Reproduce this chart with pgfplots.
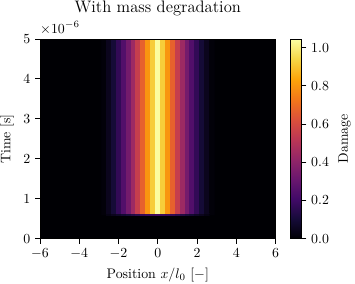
\documentclass[border=0pt]{standalone}
\usepackage{pgfplots}
\pgfplotsset{compat=1.18}
\definecolor{inf0}{RGB}{0,0,4}
\begin{document}
\begin{tikzpicture}
\useasboundingbox (-28.8pt,-32.5pt) rectangle (227.2pt,172.1pt);
\begin{axis}[
  at={(0,0)}, anchor=south west,
  scale only axis, width=170pt, height=144pt,
  xmin=-6, xmax=6, ymin=0, ymax=5e-6,
  xtick={-6,-4,-2,0,2,4,6},
  ytick={0,1e-6,2e-6,3e-6,4e-6,5e-6},
  scaled y ticks=base 10:6,
  tick scale binop=\times,
  every y tick scale label/.style={at={(rel axis cs:0,1)}, anchor=base west, inner sep=0pt, yshift=4.3pt},
  tick align=outside, xtick pos=bottom, ytick pos=left,
  major tick length=3.5pt,
  axis line style={line width=0.6pt},
  every tick/.style={line width=0.6pt, black},
  title={With mass degradation},
  title style={font=\large, at={(0.5,1)}, anchor=base, yshift=13pt},
  xlabel={Position $x/l_0$ [$-$]},
  ylabel={Time [s]},
  axis background/.style={fill=inf0},
  axis on top,
  clip=true, clip mode=individual,
  no markers,
  colormap={inferno}{rgb255=(0,0,4) rgb255=(22,11,57) rgb255=(66,10,104) rgb255=(106,23,110) rgb255=(147,38,103) rgb255=(188,55,84) rgb255=(221,81,58) rgb255=(243,120,25) rgb255=(252,165,10) rgb255=(246,215,70) rgb255=(252,255,164)},
  point meta min=0, point meta max=1.045,
  colorbar,
  colorbar style={
    at={(parent axis.north east)}, anchor=north west,
    scale only axis, width=8pt, height=144pt,
    ytick={0,0.2,0.4,0.6,0.8,1.0},
    yticklabel style={/pgf/number format/.cd, fixed, fixed zerofill, precision=1},
    ytick pos=right, yticklabel pos=right,
    tick align=outside, major tick length=3.5pt,
    ylabel={Damage},
  },
  colorbar shift/.style={xshift=10.6pt},
]
% band B: thin onset row, t in [0.59e-6, 0.64e-6]
\addplot[matrix plot*, mesh/cols=23, point meta=explicit, mark=none] table[meta=c] {
x y c
-2.75 0.6025e-6 0.01
-2.5 0.6025e-6 0.03
-2.25 0.6025e-6 0.05
-2 0.6025e-6 0.07
-1.75 0.6025e-6 0.09
-1.5 0.6025e-6 0.11
-1.25 0.6025e-6 0.13
-1 0.6025e-6 0.15
-0.75 0.6025e-6 0.17
-0.5 0.6025e-6 0.18
-0.25 0.6025e-6 0.19
0 0.6025e-6 0.20
0.25 0.6025e-6 0.19
0.5 0.6025e-6 0.18
0.75 0.6025e-6 0.17
1 0.6025e-6 0.15
1.25 0.6025e-6 0.13
1.5 0.6025e-6 0.11
1.75 0.6025e-6 0.09
2 0.6025e-6 0.07
2.25 0.6025e-6 0.05
2.5 0.6025e-6 0.03
2.75 0.6025e-6 0.01
-2.75 0.6275e-6 0.01
-2.5 0.6275e-6 0.03
-2.25 0.6275e-6 0.05
-2 0.6275e-6 0.07
-1.75 0.6275e-6 0.09
-1.5 0.6275e-6 0.11
-1.25 0.6275e-6 0.13
-1 0.6275e-6 0.15
-0.75 0.6275e-6 0.17
-0.5 0.6275e-6 0.18
-0.25 0.6275e-6 0.19
0 0.6275e-6 0.20
0.25 0.6275e-6 0.19
0.5 0.6275e-6 0.18
0.75 0.6275e-6 0.17
1 0.6275e-6 0.15
1.25 0.6275e-6 0.13
1.5 0.6275e-6 0.11
1.75 0.6275e-6 0.09
2 0.6275e-6 0.07
2.25 0.6275e-6 0.05
2.5 0.6275e-6 0.03
2.75 0.6275e-6 0.01
};
% band C: developed damage profile, t in [0.64e-6, 4.99e-6]
\addplot[matrix plot*, mesh/cols=23, point meta=explicit, mark=none] table[meta=c] {
x y c
-2.75 1.7275e-6 0.01
-2.5 1.7275e-6 0.05
-2.25 1.7275e-6 0.10
-2 1.7275e-6 0.17
-1.75 1.7275e-6 0.25
-1.5 1.7275e-6 0.34
-1.25 1.7275e-6 0.44
-1 1.7275e-6 0.55
-0.75 1.7275e-6 0.67
-0.5 1.7275e-6 0.80
-0.25 1.7275e-6 0.92
0 1.7275e-6 1.04
0.25 1.7275e-6 0.92
0.5 1.7275e-6 0.80
0.75 1.7275e-6 0.67
1 1.7275e-6 0.55
1.25 1.7275e-6 0.44
1.5 1.7275e-6 0.34
1.75 1.7275e-6 0.25
2 1.7275e-6 0.17
2.25 1.7275e-6 0.10
2.5 1.7275e-6 0.05
2.75 1.7275e-6 0.01
-2.75 3.9025e-6 0.01
-2.5 3.9025e-6 0.05
-2.25 3.9025e-6 0.10
-2 3.9025e-6 0.17
-1.75 3.9025e-6 0.25
-1.5 3.9025e-6 0.34
-1.25 3.9025e-6 0.44
-1 3.9025e-6 0.55
-0.75 3.9025e-6 0.67
-0.5 3.9025e-6 0.80
-0.25 3.9025e-6 0.92
0 3.9025e-6 1.04
0.25 3.9025e-6 0.92
0.5 3.9025e-6 0.80
0.75 3.9025e-6 0.67
1 3.9025e-6 0.55
1.25 3.9025e-6 0.44
1.5 3.9025e-6 0.34
1.75 3.9025e-6 0.25
2 3.9025e-6 0.17
2.25 3.9025e-6 0.10
2.5 3.9025e-6 0.05
2.75 3.9025e-6 0.01
};
\end{axis}
\end{tikzpicture}
\end{document}
